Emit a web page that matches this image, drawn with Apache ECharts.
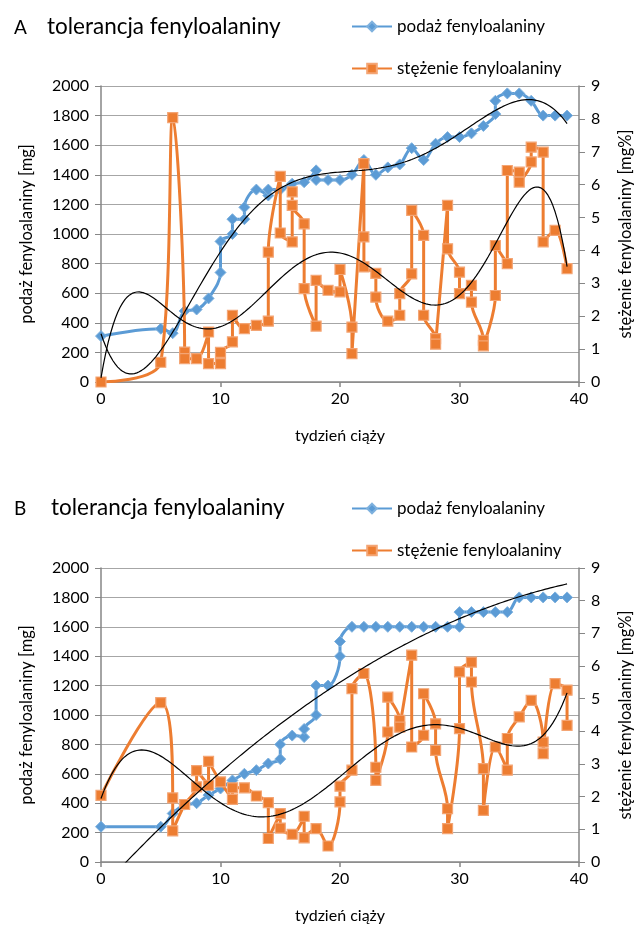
<!DOCTYPE html>
<html><head><meta charset="utf-8">
<script src="https://cdn.jsdelivr.net/npm/echarts@6/dist/echarts.min.js"></script>
<style>html,body{margin:0;padding:0;background:#fff}#c{width:642px;height:931px}</style>
</head><body><div id="c"></div>
<script>
// ---- Panel A data ----
const aPodazWeeks = [0,5,6,7,8,9,10,10,11,11,12,12,13,14,14,15,16,17,18,18,19,20,21,22,23,24,25,26,27,28,29,30,31,32,33,33,34,35,36,37,38,39];
const aPodazValues = [310,360,330,480,490,565,740,950,1000,1100,1100,1180,1300,1260,1300,1300,1340,1350,1430,1365,1365,1365,1400,1500,1400,1450,1470,1580,1500,1610,1655,1655,1680,1730,1810,1900,1950,1950,1900,1800,1800,1800];
const aStezWeeks = [0,5,6,7,7,8,9,9,10,10,11,11,12,13,14,14,15,15,16,16,16,17,17,18,18,19,20,20,21,21,22,22,22,23,23,24,25,25,26,26,27,27,28,28,29,29,30,30,31,31,32,32,33,33,34,34,35,35,36,36,37,37,38,39];
const aStezValues = [0,0.6,8.04,0.91,0.71,0.71,1.52,0.56,0.56,0.9,1.22,2.03,1.62,1.72,1.85,3.95,6.25,4.53,4.26,5.78,5.37,4.81,2.84,1.7,3.09,2.79,2.74,3.42,1.67,0.86,6.64,4.41,3.5,3.3,2.58,1.85,2.03,2.69,3.29,5.22,4.46,2.03,1.32,1.15,5.37,4.05,3.34,2.69,2.94,2.43,1.27,1.1,2.63,4.15,3.6,6.43,6.38,6.08,6.69,7.14,6.99,4.26,4.61,3.45];
// ---- Panel B data ----
const bPodazWeeks = [0,5,6,7,8,9,10,11,12,13,14,15,15,16,17,17,18,18,19,20,20,21,22,23,24,25,26,27,28,29,30,30,31,32,33,34,35,36,37,38,39];
const bPodazValues = [240,240,330,390,400,455,500,555,600,625,670,700,800,860,850,905,1000,1200,1200,1400,1500,1600,1600,1600,1600,1600,1600,1600,1600,1600,1600,1700,1700,1700,1700,1700,1800,1800,1800,1800,1800];
const bStezWeeks = [0,5,6,6,7,8,8,9,9,10,11,11,12,13,14,14,15,15,16,17,17,18,19,20,20,21,21,22,23,23,24,24,25,25,26,26,27,27,28,28,29,29,30,30,31,31,32,32,33,34,34,35,36,37,37,38,39,39];
const bStezValues = [2.04,4.88,1.96,0.95,1.76,2.3,2.8,2.35,3.08,2.45,1.92,2.27,2.27,2.02,1.82,0.72,1.48,1.04,0.85,1.4,0.74,1.02,0.49,1.84,2.32,2.81,5.31,5.77,2.9,2.5,3.98,5.05,4.34,4.13,6.33,3.52,3.88,5.15,4.23,3.42,1.63,1.02,4.08,5.82,6.12,5.51,2.86,1.58,3.52,2.81,3.78,4.44,4.95,3.67,3.32,5.46,5.26,4.18];
// trendline polynomial orders (Excel-style polynomial trendlines)
const trendOrders = {aPodaz:6, aStez:6, bPodaz:2, bStez:6};
// ---- Text ----
const titleText = 'tolerancja fenyloalaniny';
const nameSupply = 'podaż fenyloalaniny';
const nameConc = 'stężenie fenyloalaniny';
const leftAxisName = 'podaż fenyloalaniny [mg]';
const rightAxisName = 'stężenie fenyloalaniny [mg%]';
const xAxisName = 'tydzień ciąży';

function zip(xs, ys){ return xs.map((x,i)=>[x, ys[i]]); }
function polyfit(xs, ys, order){
  const s = 40, n = order+1;
  const M = Array.from({length:n},()=>Array(n+1).fill(0));
  for(let i=0;i<xs.length;i++){
    const t = xs[i]/s; const p=[1]; for(let k=1;k<n;k++) p.push(p[k-1]*t);
    for(let r=0;r<n;r++){ for(let c=0;c<n;c++) M[r][c]+=p[r]*p[c]; M[r][n]+=p[r]*ys[i]; }
  }
  for(let col=0;col<n;col++){
    let piv=col; for(let r=col+1;r<n;r++) if(Math.abs(M[r][col])>Math.abs(M[piv][col])) piv=r;
    [M[col],M[piv]]=[M[piv],M[col]];
    for(let r=0;r<n;r++){ if(r===col) continue; const f=M[r][col]/M[col][col]; for(let c=col;c<=n;c++) M[r][c]-=f*M[col][c]; }
  }
  const coef = M.map((row,i)=>row[n]/row[i]);
  return x => { const t=x/s; let v=0, p=1; for(let k=0;k<n;k++){ v+=coef[k]*p; p*=t; } return v; };
}
function trend(xs, ys, order){
  const f = polyfit(xs, ys, order);
  const lo = Math.min(...xs), hi = Math.max(...xs), out=[];
  for(let x=lo; x<=hi+1e-9; x+=0.2) out.push([x, f(x)]);
  return out;
}

const FONT = 'Lato';
const axisGray = '#868686';
const BLUE = '#5b9bd5', ORANGE = '#ed7d31';
const plain = v => String(v);

function xAxis(gi){
  return {gridIndex:gi, type:'value', min:0, max:40, interval:10,
    name:xAxisName, nameLocation:'middle', nameGap:46,
    nameTextStyle:{fontSize:16, color:'#000', fontFamily:FONT},
    axisLine:{lineStyle:{color:axisGray, width:1.5}},
    axisTick:{show:true, length:5, lineStyle:{color:axisGray, width:1.5}},
    axisLabel:{fontSize:16, color:'#000', margin:9, fontFamily:FONT, formatter:plain},
    splitLine:{show:false}};
}
function yLeft(gi){
  return {gridIndex:gi, type:'value', min:0, max:2000, interval:200, position:'left',
    name:leftAxisName, nameLocation:'middle', nameGap:66, nameRotate:90,
    nameTextStyle:{fontSize:16.5, color:'#000', fontFamily:FONT},
    axisLine:{show:true, lineStyle:{color:axisGray, width:1.5}},
    axisTick:{show:true, length:6, lineStyle:{color:axisGray}},
    axisLabel:{fontSize:16, color:'#000', margin:12, fontFamily:FONT, formatter:plain},
    splitLine:{show:true, lineStyle:{color:'#a6a6a6', width:1}}};
}
function yRight(gi){
  return {gridIndex:gi, type:'value', min:0, max:9, interval:1, position:'right',
    name:rightAxisName, nameLocation:'middle', nameGap:38, nameRotate:90,
    nameTextStyle:{fontSize:16.5, color:'#000', fontFamily:FONT},
    axisLine:{show:true, lineStyle:{color:axisGray, width:1.5}},
    axisTick:{show:true, length:6, lineStyle:{color:axisGray}},
    axisLabel:{fontSize:16, color:'#000', margin:12, fontFamily:FONT, formatter:plain},
    splitLine:{show:false}};
}
function supplySeries(xi, yi, data){
  return {name:nameSupply, type:'line', xAxisIndex:xi, yAxisIndex:yi, data:data,
    smooth:0.35, symbol:'diamond', symbolSize:11,
    lineStyle:{color:BLUE, width:3}, itemStyle:{color:BLUE, borderColor:'#7eb1de', borderWidth:1}, z:3};
}
function concSeries(xi, yi, data){
  return {name:nameConc, type:'line', xAxisIndex:xi, yAxisIndex:yi, data:data,
    smooth:0.35, symbol:'rect', symbolSize:10,
    lineStyle:{color:ORANGE, width:3}, itemStyle:{color:ORANGE, borderColor:'#f4a574', borderWidth:1.2}, z:4};
}
function trendSeries(xi, yi, data, nm){
  return {name:nm, type:'line', xAxisIndex:xi, yAxisIndex:yi, data:data, showSymbol:false, symbol:'none',
    smooth:false, lineStyle:{color:'#000', width:1.2}, z:6, silent:true};
}
function legend(top){
  return {orient:'vertical', left:346, top:top, itemWidth:40, itemHeight:12, itemGap:25,
    data:[nameSupply, nameConc], textStyle:{fontSize:17, color:'#000', fontFamily:FONT}, selectedMode:false};
}
const titleStyle = {fontSize:22.5, fontWeight:'normal', color:'#000', fontFamily:FONT};
const letterStyle = {fontSize:19, fontWeight:'normal', color:'#000', fontFamily:FONT};

const option = {
  animation:false,
  textStyle:{fontFamily:FONT},
  title:[
    {text:'A', left:9, top:13, textStyle:letterStyle},
    {text:titleText, left:42, top:10, textStyle:titleStyle},
    {text:'B', left:9, top:494, textStyle:letterStyle},
    {text:titleText, left:46, top:491, textStyle:titleStyle}
  ],
  legend:[legend(13), legend(495)],
  grid:[{left:101, top:86, width:479, height:296}, {left:101, top:568, width:479, height:294}],
  xAxis:[xAxis(0), xAxis(1)],
  yAxis:[yLeft(0), yRight(0), yLeft(1), yRight(1)],
  series:[
    supplySeries(0,0, zip(aPodazWeeks, aPodazValues)),
    concSeries(0,1, zip(aStezWeeks, aStezValues)),
    trendSeries(0,0, trend(aPodazWeeks, aPodazValues, trendOrders.aPodaz), 'trend A1'),
    trendSeries(0,1, trend(aStezWeeks, aStezValues, trendOrders.aStez), 'trend A2'),
    supplySeries(1,2, zip(bPodazWeeks, bPodazValues)),
    concSeries(1,3, zip(bStezWeeks, bStezValues)),
    trendSeries(1,2, trend(bPodazWeeks, bPodazValues, trendOrders.bPodaz), 'trend B1'),
    trendSeries(1,3, trend(bStezWeeks, bStezValues, trendOrders.bStez), 'trend B2')
  ]
};
const chart = echarts.init(document.getElementById('c'), null, {renderer:'canvas'});
chart.setOption(option);
</script></body></html>
